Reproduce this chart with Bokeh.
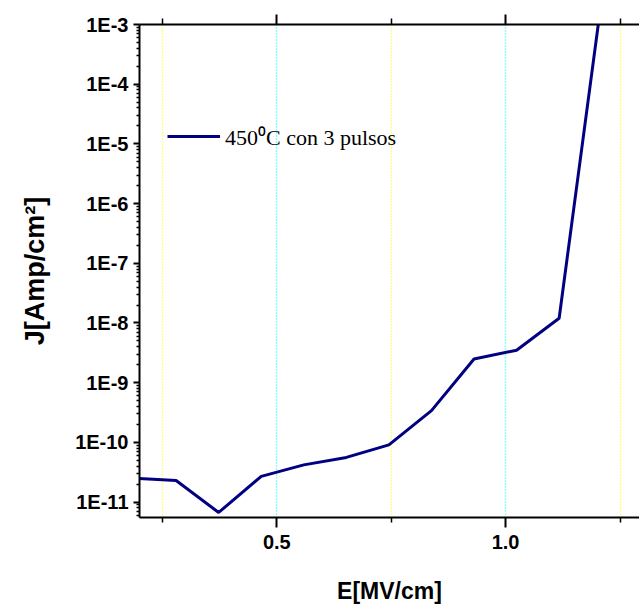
from bokeh.plotting import figure
from bokeh.models import (LinearAxis, FixedTicker, CustomJSTickFormatter,
                          Range1d, Legend, LegendItem)
from bokeh.embed import file_html
from bokeh.resources import INLINE

# Data
E = [0.187, 0.28, 0.373, 0.466, 0.559, 0.652, 0.745, 0.838, 0.931, 1.024, 1.117, 1.21]
J = [2.5e-11, 2.3e-11, 6.7e-12, 2.7e-11, 4.2e-11, 5.6e-11, 9.1e-11, 3.4e-10,
     2.5e-9, 3.5e-9, 1.2e-8, 2.7e-3]
series_label = "450\u2070C con 3 pulsos"
x_major = [0.5, 1.0]
x_minor = [0.25, 0.75, 1.25]
y_decades = list(range(-12, -2))

y_major = [10.0 ** d for d in y_decades]
y_minor = [k * 10.0 ** d for d in y_decades for k in range(2, 10)]

p = figure(width=639, height=610, output_backend="svg", toolbar_location=None,
           y_axis_type="log",
           x_range=Range1d(0.2, 1.2926), y_range=Range1d(5.52e-12, 1e-3),
           min_border_left=139, min_border_top=24, min_border_bottom=93,
           min_border_right=0)
p.outline_line_color = None
p.background_fill_color = "white"

r = p.line(E, J, line_color="#000080", line_width=3)

xt = FixedTicker(ticks=x_major, minor_ticks=x_minor)
xax = p.xaxis[0]
xax.ticker = xt
xax.formatter = CustomJSTickFormatter(code="return tick.toFixed(1);")
yax = p.yaxis[0]
yax.ticker = FixedTicker(ticks=y_major, minor_ticks=y_minor)
yax.formatter = CustomJSTickFormatter(code="return '1E' + Math.round(Math.log10(tick));")

for ax in (xax, yax):
    ax.axis_line_width = 2
    ax.axis_line_color = "black"
    ax.major_tick_line_width = 2
    ax.minor_tick_line_width = 1.5
    ax.major_tick_in = 0
    ax.minor_tick_in = 0
    ax.major_label_text_font = "Liberation Sans"
    ax.major_label_text_font_style = "bold"
    ax.major_label_text_font_size = "20px"
    ax.major_label_text_color = "black"
    ax.axis_label_text_font = "Liberation Sans"
    ax.axis_label_text_font_style = "bold"
    ax.axis_label_text_color = "black"

xax.major_tick_out = 10
xax.minor_tick_out = 5
xax.major_label_standoff = 7
xax.axis_label = "E[MV/cm]"
xax.axis_label_text_font_size = "23px"
xax.axis_label_standoff = 26

yax.major_tick_out = 6
yax.minor_tick_out = 3
yax.major_label_standoff = 5
yax.axis_label = "J[Amp/cm\u00b2]"
yax.axis_label_text_font_size = "27px"
yax.axis_label_standoff = 22

top = LinearAxis(ticker=xt, formatter=CustomJSTickFormatter(code="return '';"))
top.axis_line_width = 2
top.major_tick_line_width = 2
top.minor_tick_line_width = 1.5
top.major_tick_in = 0
top.minor_tick_in = 0
top.major_tick_out = 10
top.minor_tick_out = 6
top.major_label_text_font_size = "0px"
top.major_label_standoff = 0
p.add_layout(top, "above")

p.xgrid.grid_line_color = "#00ffff"
p.xgrid.grid_line_dash = "1 2"
p.xgrid.grid_line_width = 1.3
p.xgrid.minor_grid_line_color = "#ffff00"
p.xgrid.minor_grid_line_dash = "1 2"
p.xgrid.minor_grid_line_width = 1.3
p.ygrid.visible = False

legend = Legend(items=[LegendItem(label=series_label, renderers=[r])],
                location=(28, 366), border_line_color=None,
                background_fill_alpha=0, padding=0, margin=0,
                glyph_width=53, glyph_height=24, label_standoff=5,
                label_text_font="Liberation Serif", label_text_font_size="22px",
                label_text_color="black")
p.add_layout(legend)

open("out.html", "w").write(file_html(p, INLINE))
